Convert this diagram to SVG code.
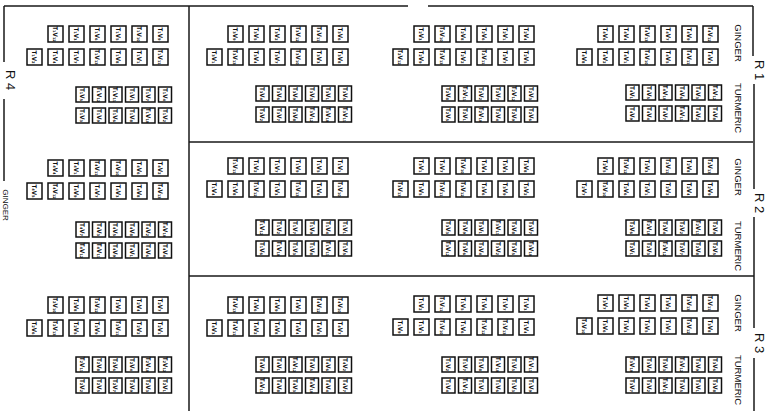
<svg xmlns="http://www.w3.org/2000/svg" width="767" height="411" viewBox="0 0 767 411">
<style>
.bg{fill:#fff}
.ln{fill:none;stroke:#1a1a1a;stroke-width:1.5}
rect.g{width:15px;height:16px;fill:#fff;stroke:#111;stroke-width:1.5}
rect.t{width:13px;height:15px;fill:#fff;stroke:#111;stroke-width:1.5}
.p text{font-family:"DejaVu Sans Condensed","DejaVu Sans",sans-serif;font-weight:bold;font-size:6.3px;fill:#111;text-anchor:middle;dominant-baseline:central}
.lab{font-family:"Liberation Sans",Arial,sans-serif;fill:#111;text-anchor:middle;dominant-baseline:central}
.rl{font-size:13px}
.cl{font-size:9.5px}
</style>
<rect class="bg" width="767" height="411"/>
<g id="frame">
<path class="ln" d="M4,6H408M428,6H753M753,6V56M754,84V189M754,217V328M754,358V411M4,6V62M4,99V181M189,6V411M189,142H753M189,276H754"/>
</g>
<g id="labels">
<text class="lab rl" transform="translate(759,70)rotate(90)">R 1</text>
<text class="lab rl" transform="translate(759,203)rotate(90)">R 2</text>
<text class="lab rl" transform="translate(759,343)rotate(90)">R 3</text>
<text class="lab rl" transform="translate(10,80)rotate(90)">R 4</text>
<text class="lab" style="font-size:8px" transform="translate(5,205)rotate(90)">GINGER</text>
<text class="lab cl" transform="translate(738,43)rotate(90)">GINGER</text>
<text class="lab cl" transform="translate(738,108)rotate(90)">TURMERIC</text>
<text class="lab cl" transform="translate(738,177)rotate(90)">GINGER</text>
<text class="lab cl" transform="translate(738,246)rotate(90)">TURMERIC</text>
<text class="lab cl" transform="translate(738,313)rotate(90)">GINGER</text>
<text class="lab cl" transform="translate(738,380)rotate(90)">TURMERIC</text>
</g>

<g id="r1-a" class="p" transform="translate(207,26)">
<rect class="g" x="21" y="0"/><text transform="translate(28.5,8)rotate(90)">T₃V₉</text>
<rect class="g" x="42" y="0"/><text transform="translate(49.5,8)rotate(90)">T₃V₅</text>
<rect class="g" x="63" y="0"/><text transform="translate(70.5,8)rotate(90)">T₃V₂</text>
<rect class="g" x="84" y="0"/><text transform="translate(91.5,8)rotate(90)">T₃V₁₂</text>
<rect class="g" x="105" y="0"/><text transform="translate(112.5,8)rotate(90)">T₃V₁₁</text>
<rect class="g" x="126" y="0"/><text transform="translate(133.5,8)rotate(90)">T₃V₆</text>
<rect class="g" x="0" y="23"/><text transform="translate(7.5,31)rotate(90)">T₃V₁</text>
<rect class="g" x="21" y="23"/><text transform="translate(28.5,31)rotate(90)">T₃V₁₃</text>
<rect class="g" x="42" y="23"/><text transform="translate(49.5,31)rotate(90)">T₃V₄</text>
<rect class="g" x="63" y="23"/><text transform="translate(70.5,31)rotate(90)">T₃V₇</text>
<rect class="g" x="84" y="23"/><text transform="translate(91.5,31)rotate(90)">T₃V₁₀</text>
<rect class="g" x="105" y="23"/><text transform="translate(112.5,31)rotate(90)">T₃V₃</text>
<rect class="g" x="126" y="23"/><text transform="translate(133.5,31)rotate(90)">T₃V₈</text>
<g transform="translate(0,60)">
<rect class="t" x="49" y="0"/><text transform="translate(55.5,7.5)rotate(90)">T₃V₄</text>
<rect class="t" x="65.5" y="0"/><text transform="translate(72,7.5)rotate(90)">T₃V₆</text>
<rect class="t" x="82" y="0"/><text transform="translate(88.5,7.5)rotate(90)">T₃V₉</text>
<rect class="t" x="98.5" y="0"/><text transform="translate(105,7.5)rotate(90)">T₃V₃</text>
<rect class="t" x="115" y="0"/><text transform="translate(121.5,7.5)rotate(90)">T₃V₁</text>
<rect class="t" x="131.5" y="0"/><text transform="translate(138,7.5)rotate(90)">T₃V₅</text>
<rect class="t" x="49" y="21"/><text transform="translate(55.5,28.5)rotate(90)">T₃V₂</text>
<rect class="t" x="65.5" y="21"/><text transform="translate(72,28.5)rotate(90)">T₃V₇</text>
<rect class="t" x="82" y="21"/><text transform="translate(88.5,28.5)rotate(90)">T₃V₈</text>
<rect class="t" x="98.5" y="21"/><text transform="translate(105,28.5)rotate(90)">T₃V₁₂</text>
<rect class="t" x="115" y="21"/><text transform="translate(121.5,28.5)rotate(90)">T₃V₁₀</text>
<rect class="t" x="131.5" y="21"/><text transform="translate(138,28.5)rotate(90)">T₃V₁₁</text>
</g>
</g>

<g id="r1-b" class="p" transform="translate(393,26)">
<rect class="g" x="21" y="0"/><text transform="translate(28.5,8)rotate(90)">T₂V₃</text>
<rect class="g" x="42" y="0"/><text transform="translate(49.5,8)rotate(90)">T₂V₁₀</text>
<rect class="g" x="63" y="0"/><text transform="translate(70.5,8)rotate(90)">T₂V₈</text>
<rect class="g" x="84" y="0"/><text transform="translate(91.5,8)rotate(90)">T₂V₆</text>
<rect class="g" x="105" y="0"/><text transform="translate(112.5,8)rotate(90)">T₂V₁</text>
<rect class="g" x="126" y="0"/><text transform="translate(133.5,8)rotate(90)">T₂V₄</text>
<rect class="g" x="0" y="23"/><text transform="translate(7.5,31)rotate(90)">T₂V₁₂</text>
<rect class="g" x="21" y="23"/><text transform="translate(28.5,31)rotate(90)">T₂V₉</text>
<rect class="g" x="42" y="23"/><text transform="translate(49.5,31)rotate(90)">T₂V₁₃</text>
<rect class="g" x="63" y="23"/><text transform="translate(70.5,31)rotate(90)">T₂V₂</text>
<rect class="g" x="84" y="23"/><text transform="translate(91.5,31)rotate(90)">T₂V₁₁</text>
<rect class="g" x="105" y="23"/><text transform="translate(112.5,31)rotate(90)">T₂V₇</text>
<rect class="g" x="126" y="23"/><text transform="translate(133.5,31)rotate(90)">T₂V₅</text>
<g transform="translate(0,60)">
<rect class="t" x="49" y="0"/><text transform="translate(55.5,7.5)rotate(90)">T₂V₈</text>
<rect class="t" x="65.5" y="0"/><text transform="translate(72,7.5)rotate(90)">T₂V₁₁</text>
<rect class="t" x="82" y="0"/><text transform="translate(88.5,7.5)rotate(90)">T₂V₂</text>
<rect class="t" x="98.5" y="0"/><text transform="translate(105,7.5)rotate(90)">T₂V₇</text>
<rect class="t" x="115" y="0"/><text transform="translate(121.5,7.5)rotate(90)">T₂V₁₂</text>
<rect class="t" x="131.5" y="0"/><text transform="translate(138,7.5)rotate(90)">T₂V₃</text>
<rect class="t" x="49" y="21"/><text transform="translate(55.5,28.5)rotate(90)">T₂V₅</text>
<rect class="t" x="65.5" y="21"/><text transform="translate(72,28.5)rotate(90)">T₂V₁</text>
<rect class="t" x="82" y="21"/><text transform="translate(88.5,28.5)rotate(90)">T₂V₁₀</text>
<rect class="t" x="98.5" y="21"/><text transform="translate(105,28.5)rotate(90)">T₂V₄</text>
<rect class="t" x="115" y="21"/><text transform="translate(121.5,28.5)rotate(90)">T₂V₉</text>
<rect class="t" x="131.5" y="21"/><text transform="translate(138,28.5)rotate(90)">T₂V₆</text>
</g>
</g>

<g id="r1-c" class="p" transform="translate(577,26)">
<rect class="g" x="21" y="0"/><text transform="translate(28.5,8)rotate(90)">T₄V₆</text>
<rect class="g" x="42" y="0"/><text transform="translate(49.5,8)rotate(90)">T₄V₄</text>
<rect class="g" x="63" y="0"/><text transform="translate(70.5,8)rotate(90)">T₄V₁₃</text>
<rect class="g" x="84" y="0"/><text transform="translate(91.5,8)rotate(90)">T₄V₇</text>
<rect class="g" x="105" y="0"/><text transform="translate(112.5,8)rotate(90)">T₄V₉</text>
<rect class="g" x="126" y="0"/><text transform="translate(133.5,8)rotate(90)">T₄V₁₂</text>
<rect class="g" x="0" y="23"/><text transform="translate(7.5,31)rotate(90)">T₄V₈</text>
<rect class="g" x="21" y="23"/><text transform="translate(28.5,31)rotate(90)">T₄V₂</text>
<rect class="g" x="42" y="23"/><text transform="translate(49.5,31)rotate(90)">T₄V₁</text>
<rect class="g" x="63" y="23"/><text transform="translate(70.5,31)rotate(90)">T₄V₁₀</text>
<rect class="g" x="84" y="23"/><text transform="translate(91.5,31)rotate(90)">T₄V₅</text>
<rect class="g" x="105" y="23"/><text transform="translate(112.5,31)rotate(90)">T₄V₁₁</text>
<rect class="g" x="126" y="23"/><text transform="translate(133.5,31)rotate(90)">T₄V₃</text>
<g transform="translate(0,59)">
<rect class="t" x="49" y="0"/><text transform="translate(55.5,7.5)rotate(90)">T₄V₁</text>
<rect class="t" x="65.5" y="0"/><text transform="translate(72,7.5)rotate(90)">T₄V₅</text>
<rect class="t" x="82" y="0"/><text transform="translate(88.5,7.5)rotate(90)">T₄V₁₀</text>
<rect class="t" x="98.5" y="0"/><text transform="translate(105,7.5)rotate(90)">T₄V₆</text>
<rect class="t" x="115" y="0"/><text transform="translate(121.5,7.5)rotate(90)">T₄V₃</text>
<rect class="t" x="131.5" y="0"/><text transform="translate(138,7.5)rotate(90)">T₄V₁₂</text>
<rect class="t" x="49" y="21"/><text transform="translate(55.5,28.5)rotate(90)">T₄V₉</text>
<rect class="t" x="65.5" y="21"/><text transform="translate(72,28.5)rotate(90)">T₄V₄</text>
<rect class="t" x="82" y="21"/><text transform="translate(88.5,28.5)rotate(90)">T₄V₇</text>
<rect class="t" x="98.5" y="21"/><text transform="translate(105,28.5)rotate(90)">T₄V₁₁</text>
<rect class="t" x="115" y="21"/><text transform="translate(121.5,28.5)rotate(90)">T₄V₂</text>
<rect class="t" x="131.5" y="21"/><text transform="translate(138,28.5)rotate(90)">T₄V₈</text>
</g>
</g>

<g id="r2-a" class="p" transform="translate(207,158)">
<rect class="g" x="21" y="0"/><text transform="translate(28.5,8)rotate(90)">T₁V₁₁</text>
<rect class="g" x="42" y="0"/><text transform="translate(49.5,8)rotate(90)">T₁V₂</text>
<rect class="g" x="63" y="0"/><text transform="translate(70.5,8)rotate(90)">T₁V₇</text>
<rect class="g" x="84" y="0"/><text transform="translate(91.5,8)rotate(90)">T₁V₉</text>
<rect class="g" x="105" y="0"/><text transform="translate(112.5,8)rotate(90)">T₁V₅</text>
<rect class="g" x="126" y="0"/><text transform="translate(133.5,8)rotate(90)">T₁V₁</text>
<rect class="g" x="0" y="23"/><text transform="translate(7.5,31)rotate(90)">T₁V₄</text>
<rect class="g" x="21" y="23"/><text transform="translate(28.5,31)rotate(90)">T₁V₈</text>
<rect class="g" x="42" y="23"/><text transform="translate(49.5,31)rotate(90)">T₁V₁₂</text>
<rect class="g" x="63" y="23"/><text transform="translate(70.5,31)rotate(90)">T₁V₃</text>
<rect class="g" x="84" y="23"/><text transform="translate(91.5,31)rotate(90)">T₁V₁₃</text>
<rect class="g" x="105" y="23"/><text transform="translate(112.5,31)rotate(90)">T₁V₆</text>
<rect class="g" x="126" y="23"/><text transform="translate(133.5,31)rotate(90)">T₁V₁₀</text>
<g transform="translate(0,62)">
<rect class="t" x="49" y="0"/><text transform="translate(55.5,7.5)rotate(90)">T₁V₁₂</text>
<rect class="t" x="65.5" y="0"/><text transform="translate(72,7.5)rotate(90)">T₁V₂</text>
<rect class="t" x="82" y="0"/><text transform="translate(88.5,7.5)rotate(90)">T₁V₇</text>
<rect class="t" x="98.5" y="0"/><text transform="translate(105,7.5)rotate(90)">T₁V₉</text>
<rect class="t" x="115" y="0"/><text transform="translate(121.5,7.5)rotate(90)">T₁V₄</text>
<rect class="t" x="131.5" y="0"/><text transform="translate(138,7.5)rotate(90)">T₁V₁</text>
<rect class="t" x="49" y="21"/><text transform="translate(55.5,28.5)rotate(90)">T₁V₆</text>
<rect class="t" x="65.5" y="21"/><text transform="translate(72,28.5)rotate(90)">T₁V₁₀</text>
<rect class="t" x="82" y="21"/><text transform="translate(88.5,28.5)rotate(90)">T₁V₃</text>
<rect class="t" x="98.5" y="21"/><text transform="translate(105,28.5)rotate(90)">T₁V₈</text>
<rect class="t" x="115" y="21"/><text transform="translate(121.5,28.5)rotate(90)">T₁V₁₁</text>
<rect class="t" x="131.5" y="21"/><text transform="translate(138,28.5)rotate(90)">T₁V₅</text>
</g>
</g>

<g id="r2-b" class="p" transform="translate(393,158)">
<rect class="g" x="21" y="0"/><text transform="translate(28.5,8)rotate(90)">T₃V₁</text>
<rect class="g" x="42" y="0"/><text transform="translate(49.5,8)rotate(90)">T₃V₇</text>
<rect class="g" x="63" y="0"/><text transform="translate(70.5,8)rotate(90)">T₃V₁₀</text>
<rect class="g" x="84" y="0"/><text transform="translate(91.5,8)rotate(90)">T₃V₄</text>
<rect class="g" x="105" y="0"/><text transform="translate(112.5,8)rotate(90)">T₃V₃</text>
<rect class="g" x="126" y="0"/><text transform="translate(133.5,8)rotate(90)">T₃V₈</text>
<rect class="g" x="0" y="23"/><text transform="translate(7.5,31)rotate(90)">T₃V₁₃</text>
<rect class="g" x="21" y="23"/><text transform="translate(28.5,31)rotate(90)">T₃V₅</text>
<rect class="g" x="42" y="23"/><text transform="translate(49.5,31)rotate(90)">T₃V₁₁</text>
<rect class="g" x="63" y="23"/><text transform="translate(70.5,31)rotate(90)">T₃V₁₂</text>
<rect class="g" x="84" y="23"/><text transform="translate(91.5,31)rotate(90)">T₃V₆</text>
<rect class="g" x="105" y="23"/><text transform="translate(112.5,31)rotate(90)">T₃V₉</text>
<rect class="g" x="126" y="23"/><text transform="translate(133.5,31)rotate(90)">T₃V₂</text>
<g transform="translate(0,62)">
<rect class="t" x="49" y="0"/><text transform="translate(55.5,7.5)rotate(90)">T₃V₃</text>
<rect class="t" x="65.5" y="0"/><text transform="translate(72,7.5)rotate(90)">T₃V₉</text>
<rect class="t" x="82" y="0"/><text transform="translate(88.5,7.5)rotate(90)">T₃V₁</text>
<rect class="t" x="98.5" y="0"/><text transform="translate(105,7.5)rotate(90)">T₃V₁₁</text>
<rect class="t" x="115" y="0"/><text transform="translate(121.5,7.5)rotate(90)">T₃V₈</text>
<rect class="t" x="131.5" y="0"/><text transform="translate(138,7.5)rotate(90)">T₃V₇</text>
<rect class="t" x="49" y="21"/><text transform="translate(55.5,28.5)rotate(90)">T₃V₁₂</text>
<rect class="t" x="65.5" y="21"/><text transform="translate(72,28.5)rotate(90)">T₃V₆</text>
<rect class="t" x="82" y="21"/><text transform="translate(88.5,28.5)rotate(90)">T₃V₄</text>
<rect class="t" x="98.5" y="21"/><text transform="translate(105,28.5)rotate(90)">T₃V₂</text>
<rect class="t" x="115" y="21"/><text transform="translate(121.5,28.5)rotate(90)">T₃V₅</text>
<rect class="t" x="131.5" y="21"/><text transform="translate(138,28.5)rotate(90)">T₃V₁₀</text>
</g>
</g>

<g id="r2-c" class="p" transform="translate(577,158)">
<rect class="g" x="21" y="0"/><text transform="translate(28.5,8)rotate(90)">T₂V₅</text>
<rect class="g" x="42" y="0"/><text transform="translate(49.5,8)rotate(90)">T₂V₁₂</text>
<rect class="g" x="63" y="0"/><text transform="translate(70.5,8)rotate(90)">T₂V₃</text>
<rect class="g" x="84" y="0"/><text transform="translate(91.5,8)rotate(90)">T₂V₁₁</text>
<rect class="g" x="105" y="0"/><text transform="translate(112.5,8)rotate(90)">T₂V₈</text>
<rect class="g" x="126" y="0"/><text transform="translate(133.5,8)rotate(90)">T₂V₁₃</text>
<rect class="g" x="0" y="23"/><text transform="translate(7.5,31)rotate(90)">T₂V₇</text>
<rect class="g" x="21" y="23"/><text transform="translate(28.5,31)rotate(90)">T₂V₁₀</text>
<rect class="g" x="42" y="23"/><text transform="translate(49.5,31)rotate(90)">T₂V₆</text>
<rect class="g" x="63" y="23"/><text transform="translate(70.5,31)rotate(90)">T₂V₁</text>
<rect class="g" x="84" y="23"/><text transform="translate(91.5,31)rotate(90)">T₂V₂</text>
<rect class="g" x="105" y="23"/><text transform="translate(112.5,31)rotate(90)">T₂V₄</text>
<rect class="g" x="126" y="23"/><text transform="translate(133.5,31)rotate(90)">T₂V₉</text>
<g transform="translate(0,62)">
<rect class="t" x="49" y="0"/><text transform="translate(55.5,7.5)rotate(90)">T₂V₆</text>
<rect class="t" x="65.5" y="0"/><text transform="translate(72,7.5)rotate(90)">T₂V₁₀</text>
<rect class="t" x="82" y="0"/><text transform="translate(88.5,7.5)rotate(90)">T₂V₄</text>
<rect class="t" x="98.5" y="0"/><text transform="translate(105,7.5)rotate(90)">T₂V₂</text>
<rect class="t" x="115" y="0"/><text transform="translate(121.5,7.5)rotate(90)">T₂V₁₁</text>
<rect class="t" x="131.5" y="0"/><text transform="translate(138,7.5)rotate(90)">T₂V₉</text>
<rect class="t" x="49" y="21"/><text transform="translate(55.5,28.5)rotate(90)">T₂V₁</text>
<rect class="t" x="65.5" y="21"/><text transform="translate(72,28.5)rotate(90)">T₂V₃</text>
<rect class="t" x="82" y="21"/><text transform="translate(88.5,28.5)rotate(90)">T₂V₁₂</text>
<rect class="t" x="98.5" y="21"/><text transform="translate(105,28.5)rotate(90)">T₂V₇</text>
<rect class="t" x="115" y="21"/><text transform="translate(121.5,28.5)rotate(90)">T₂V₈</text>
<rect class="t" x="131.5" y="21"/><text transform="translate(138,28.5)rotate(90)">T₂V₅</text>
</g>
</g>

<g id="r3-a" class="p" transform="translate(207,297)">
<rect class="g" x="21" y="0"/><text transform="translate(28.5,8)rotate(90)">T₄V₁₃</text>
<rect class="g" x="42" y="0"/><text transform="translate(49.5,8)rotate(90)">T₄V₆</text>
<rect class="g" x="63" y="0"/><text transform="translate(70.5,8)rotate(90)">T₄V₉</text>
<rect class="g" x="84" y="0"/><text transform="translate(91.5,8)rotate(90)">T₄V₁</text>
<rect class="g" x="105" y="0"/><text transform="translate(112.5,8)rotate(90)">T₄V₁₂</text>
<rect class="g" x="126" y="0"/><text transform="translate(133.5,8)rotate(90)">T₄V₁₀</text>
<rect class="g" x="0" y="23"/><text transform="translate(7.5,31)rotate(90)">T₄V₃</text>
<rect class="g" x="21" y="23"/><text transform="translate(28.5,31)rotate(90)">T₄V₁₁</text>
<rect class="g" x="42" y="23"/><text transform="translate(49.5,31)rotate(90)">T₄V₂</text>
<rect class="g" x="63" y="23"/><text transform="translate(70.5,31)rotate(90)">T₄V₈</text>
<rect class="g" x="84" y="23"/><text transform="translate(91.5,31)rotate(90)">T₄V₄</text>
<rect class="g" x="105" y="23"/><text transform="translate(112.5,31)rotate(90)">T₄V₅</text>
<rect class="g" x="126" y="23"/><text transform="translate(133.5,31)rotate(90)">T₄V₇</text>
<g transform="translate(0,60)">
<rect class="t" x="49" y="0"/><text transform="translate(55.5,7.5)rotate(90)">T₄V₉</text>
<rect class="t" x="65.5" y="0"/><text transform="translate(72,7.5)rotate(90)">T₄V₁</text>
<rect class="t" x="82" y="0"/><text transform="translate(88.5,7.5)rotate(90)">T₄V₁₂</text>
<rect class="t" x="98.5" y="0"/><text transform="translate(105,7.5)rotate(90)">T₄V₅</text>
<rect class="t" x="115" y="0"/><text transform="translate(121.5,7.5)rotate(90)">T₄V₆</text>
<rect class="t" x="131.5" y="0"/><text transform="translate(138,7.5)rotate(90)">T₄V₂</text>
<rect class="t" x="49" y="21"/><text transform="translate(55.5,28.5)rotate(90)">T₄V₁₁</text>
<rect class="t" x="65.5" y="21"/><text transform="translate(72,28.5)rotate(90)">T₄V₈</text>
<rect class="t" x="82" y="21"/><text transform="translate(88.5,28.5)rotate(90)">T₄V₃</text>
<rect class="t" x="98.5" y="21"/><text transform="translate(105,28.5)rotate(90)">T₄V₁₀</text>
<rect class="t" x="115" y="21"/><text transform="translate(121.5,28.5)rotate(90)">T₄V₄</text>
<rect class="t" x="131.5" y="21"/><text transform="translate(138,28.5)rotate(90)">T₄V₇</text>
</g>
</g>

<g id="r3-b" class="p" transform="translate(393,296)">
<rect class="g" x="21" y="0"/><text transform="translate(28.5,8)rotate(90)">T₁V₂</text>
<rect class="g" x="42" y="0"/><text transform="translate(49.5,8)rotate(90)">T₁V₁₁</text>
<rect class="g" x="63" y="0"/><text transform="translate(70.5,8)rotate(90)">T₁V₅</text>
<rect class="g" x="84" y="0"/><text transform="translate(91.5,8)rotate(90)">T₁V₈</text>
<rect class="g" x="105" y="0"/><text transform="translate(112.5,8)rotate(90)">T₁V₇</text>
<rect class="g" x="126" y="0"/><text transform="translate(133.5,8)rotate(90)">T₁V₃</text>
<rect class="g" x="0" y="23"/><text transform="translate(7.5,31)rotate(90)">T₁V₉</text>
<rect class="g" x="21" y="23"/><text transform="translate(28.5,31)rotate(90)">T₁V₁</text>
<rect class="g" x="42" y="23"/><text transform="translate(49.5,31)rotate(90)">T₁V₁₀</text>
<rect class="g" x="63" y="23"/><text transform="translate(70.5,31)rotate(90)">T₁V₆</text>
<rect class="g" x="84" y="23"/><text transform="translate(91.5,31)rotate(90)">T₁V₁₂</text>
<rect class="g" x="105" y="23"/><text transform="translate(112.5,31)rotate(90)">T₁V₁₃</text>
<rect class="g" x="126" y="23"/><text transform="translate(133.5,31)rotate(90)">T₁V₄</text>
<g transform="translate(0,61)">
<rect class="t" x="49" y="0"/><text transform="translate(55.5,7.5)rotate(90)">T₁V₂</text>
<rect class="t" x="65.5" y="0"/><text transform="translate(72,7.5)rotate(90)">T₁V₇</text>
<rect class="t" x="82" y="0"/><text transform="translate(88.5,7.5)rotate(90)">T₁V₈</text>
<rect class="t" x="98.5" y="0"/><text transform="translate(105,7.5)rotate(90)">T₁V₁₀</text>
<rect class="t" x="115" y="0"/><text transform="translate(121.5,7.5)rotate(90)">T₁V₅</text>
<rect class="t" x="131.5" y="0"/><text transform="translate(138,7.5)rotate(90)">T₁V₁₁</text>
<rect class="t" x="49" y="21"/><text transform="translate(55.5,28.5)rotate(90)">T₁V₄</text>
<rect class="t" x="65.5" y="21"/><text transform="translate(72,28.5)rotate(90)">T₁V₁₂</text>
<rect class="t" x="82" y="21"/><text transform="translate(88.5,28.5)rotate(90)">T₁V₁</text>
<rect class="t" x="98.5" y="21"/><text transform="translate(105,28.5)rotate(90)">T₁V₆</text>
<rect class="t" x="115" y="21"/><text transform="translate(121.5,28.5)rotate(90)">T₁V₃</text>
<rect class="t" x="131.5" y="21"/><text transform="translate(138,28.5)rotate(90)">T₁V₉</text>
</g>
</g>

<g id="r3-c" class="p" transform="translate(577,295)">
<rect class="g" x="21" y="0"/><text transform="translate(28.5,8)rotate(90)">T₃V₇</text>
<rect class="g" x="42" y="0"/><text transform="translate(49.5,8)rotate(90)">T₃V₉</text>
<rect class="g" x="63" y="0"/><text transform="translate(70.5,8)rotate(90)">T₃V₄</text>
<rect class="g" x="84" y="0"/><text transform="translate(91.5,8)rotate(90)">T₃V₂</text>
<rect class="g" x="105" y="0"/><text transform="translate(112.5,8)rotate(90)">T₃V₁₃</text>
<rect class="g" x="126" y="0"/><text transform="translate(133.5,8)rotate(90)">T₃V₁₁</text>
<rect class="g" x="0" y="23"/><text transform="translate(7.5,31)rotate(90)">T₃V₁₀</text>
<rect class="g" x="21" y="23"/><text transform="translate(28.5,31)rotate(90)">T₃V₆</text>
<rect class="g" x="42" y="23"/><text transform="translate(49.5,31)rotate(90)">T₃V₃</text>
<rect class="g" x="63" y="23"/><text transform="translate(70.5,31)rotate(90)">T₃V₅</text>
<rect class="g" x="84" y="23"/><text transform="translate(91.5,31)rotate(90)">T₃V₁</text>
<rect class="g" x="105" y="23"/><text transform="translate(112.5,31)rotate(90)">T₃V₁₂</text>
<rect class="g" x="126" y="23"/><text transform="translate(133.5,31)rotate(90)">T₃V₈</text>
<g transform="translate(0,62)">
<rect class="t" x="49" y="0"/><text transform="translate(55.5,7.5)rotate(90)">T₃V₁₀</text>
<rect class="t" x="65.5" y="0"/><text transform="translate(72,7.5)rotate(90)">T₃V₄</text>
<rect class="t" x="82" y="0"/><text transform="translate(88.5,7.5)rotate(90)">T₃V₃</text>
<rect class="t" x="98.5" y="0"/><text transform="translate(105,7.5)rotate(90)">T₃V₁₂</text>
<rect class="t" x="115" y="0"/><text transform="translate(121.5,7.5)rotate(90)">T₃V₉</text>
<rect class="t" x="131.5" y="0"/><text transform="translate(138,7.5)rotate(90)">T₃V₆</text>
<rect class="t" x="49" y="21"/><text transform="translate(55.5,28.5)rotate(90)">T₃V₇</text>
<rect class="t" x="65.5" y="21"/><text transform="translate(72,28.5)rotate(90)">T₃V₂</text>
<rect class="t" x="82" y="21"/><text transform="translate(88.5,28.5)rotate(90)">T₃V₁₁</text>
<rect class="t" x="98.5" y="21"/><text transform="translate(105,28.5)rotate(90)">T₃V₅</text>
<rect class="t" x="115" y="21"/><text transform="translate(121.5,28.5)rotate(90)">T₃V₁</text>
<rect class="t" x="131.5" y="21"/><text transform="translate(138,28.5)rotate(90)">T₃V₈</text>
</g>
</g>

<g id="r4-1" class="p" transform="translate(27,26)">
<rect class="g" x="21" y="0"/><text transform="translate(28.5,8)rotate(90)">T₁V₁₂</text>
<rect class="g" x="42" y="0"/><text transform="translate(49.5,8)rotate(90)">T₁V₃</text>
<rect class="g" x="63" y="0"/><text transform="translate(70.5,8)rotate(90)">T₁V₆</text>
<rect class="g" x="84" y="0"/><text transform="translate(91.5,8)rotate(90)">T₁V₅</text>
<rect class="g" x="105" y="0"/><text transform="translate(112.5,8)rotate(90)">T₁V₁₀</text>
<rect class="g" x="126" y="0"/><text transform="translate(133.5,8)rotate(90)">T₁V₉</text>
<rect class="g" x="0" y="23"/><text transform="translate(7.5,31)rotate(90)">T₁V₂</text>
<rect class="g" x="21" y="23"/><text transform="translate(28.5,31)rotate(90)">T₁V₄</text>
<rect class="g" x="42" y="23"/><text transform="translate(49.5,31)rotate(90)">T₁V₇</text>
<rect class="g" x="63" y="23"/><text transform="translate(70.5,31)rotate(90)">T₁V₁₃</text>
<rect class="g" x="84" y="23"/><text transform="translate(91.5,31)rotate(90)">T₁V₈</text>
<rect class="g" x="105" y="23"/><text transform="translate(112.5,31)rotate(90)">T₁V₁</text>
<rect class="g" x="126" y="23"/><text transform="translate(133.5,31)rotate(90)">T₁V₁₁</text>
<g transform="translate(0,61)">
<rect class="t" x="49" y="0"/><text transform="translate(55.5,7.5)rotate(90)">T₁V₅</text>
<rect class="t" x="65.5" y="0"/><text transform="translate(72,7.5)rotate(90)">T₁V₁₂</text>
<rect class="t" x="82" y="0"/><text transform="translate(88.5,7.5)rotate(90)">T₁V₁₁</text>
<rect class="t" x="98.5" y="0"/><text transform="translate(105,7.5)rotate(90)">T₁V₁</text>
<rect class="t" x="115" y="0"/><text transform="translate(121.5,7.5)rotate(90)">T₁V₇</text>
<rect class="t" x="131.5" y="0"/><text transform="translate(138,7.5)rotate(90)">T₁V₄</text>
<rect class="t" x="49" y="21"/><text transform="translate(55.5,28.5)rotate(90)">T₁V₃</text>
<rect class="t" x="65.5" y="21"/><text transform="translate(72,28.5)rotate(90)">T₁V₉</text>
<rect class="t" x="82" y="21"/><text transform="translate(88.5,28.5)rotate(90)">T₁V₆</text>
<rect class="t" x="98.5" y="21"/><text transform="translate(105,28.5)rotate(90)">T₁V₈</text>
<rect class="t" x="115" y="21"/><text transform="translate(121.5,28.5)rotate(90)">T₁V₁₀</text>
<rect class="t" x="131.5" y="21"/><text transform="translate(138,28.5)rotate(90)">T₁V₂</text>
</g>
</g>

<g id="r4-2" class="p" transform="translate(27,160)">
<rect class="g" x="21" y="0"/><text transform="translate(28.5,8)rotate(90)">T₄V₄</text>
<rect class="g" x="42" y="0"/><text transform="translate(49.5,8)rotate(90)">T₄V₁</text>
<rect class="g" x="63" y="0"/><text transform="translate(70.5,8)rotate(90)">T₄V₁₁</text>
<rect class="g" x="84" y="0"/><text transform="translate(91.5,8)rotate(90)">T₄V₁₀</text>
<rect class="g" x="105" y="0"/><text transform="translate(112.5,8)rotate(90)">T₄V₆</text>
<rect class="g" x="126" y="0"/><text transform="translate(133.5,8)rotate(90)">T₄V₂</text>
<rect class="g" x="0" y="23"/><text transform="translate(7.5,31)rotate(90)">T₄V₅</text>
<rect class="g" x="21" y="23"/><text transform="translate(28.5,31)rotate(90)">T₄V₁₂</text>
<rect class="g" x="42" y="23"/><text transform="translate(49.5,31)rotate(90)">T₄V₉</text>
<rect class="g" x="63" y="23"/><text transform="translate(70.5,31)rotate(90)">T₄V₇</text>
<rect class="g" x="84" y="23"/><text transform="translate(91.5,31)rotate(90)">T₄V₃</text>
<rect class="g" x="105" y="23"/><text transform="translate(112.5,31)rotate(90)">T₄V₈</text>
<rect class="g" x="126" y="23"/><text transform="translate(133.5,31)rotate(90)">T₄V₁₃</text>
<g transform="translate(0,62)">
<rect class="t" x="49" y="0"/><text transform="translate(55.5,7.5)rotate(90)">T₄V₇</text>
<rect class="t" x="65.5" y="0"/><text transform="translate(72,7.5)rotate(90)">T₄V₃</text>
<rect class="t" x="82" y="0"/><text transform="translate(88.5,7.5)rotate(90)">T₄V₅</text>
<rect class="t" x="98.5" y="0"/><text transform="translate(105,7.5)rotate(90)">T₄V₈</text>
<rect class="t" x="115" y="0"/><text transform="translate(121.5,7.5)rotate(90)">T₄V₂</text>
<rect class="t" x="131.5" y="0"/><text transform="translate(138,7.5)rotate(90)">T₄V₁₀</text>
<rect class="t" x="49" y="21"/><text transform="translate(55.5,28.5)rotate(90)">T₄V₁₂</text>
<rect class="t" x="65.5" y="21"/><text transform="translate(72,28.5)rotate(90)">T₄V₁₁</text>
<rect class="t" x="82" y="21"/><text transform="translate(88.5,28.5)rotate(90)">T₄V₉</text>
<rect class="t" x="98.5" y="21"/><text transform="translate(105,28.5)rotate(90)">T₄V₁</text>
<rect class="t" x="115" y="21"/><text transform="translate(121.5,28.5)rotate(90)">T₄V₆</text>
<rect class="t" x="131.5" y="21"/><text transform="translate(138,28.5)rotate(90)">T₄V₄</text>
</g>
</g>

<g id="r4-3" class="p" transform="translate(27,297)">
<rect class="g" x="21" y="0"/><text transform="translate(28.5,8)rotate(90)">T₂V₁₀</text>
<rect class="g" x="42" y="0"/><text transform="translate(49.5,8)rotate(90)">T₂V₈</text>
<rect class="g" x="63" y="0"/><text transform="translate(70.5,8)rotate(90)">T₂V₁₂</text>
<rect class="g" x="84" y="0"/><text transform="translate(91.5,8)rotate(90)">T₂V₃</text>
<rect class="g" x="105" y="0"/><text transform="translate(112.5,8)rotate(90)">T₂V₄</text>
<rect class="g" x="126" y="0"/><text transform="translate(133.5,8)rotate(90)">T₂V₇</text>
<rect class="g" x="0" y="23"/><text transform="translate(7.5,31)rotate(90)">T₂V₆</text>
<rect class="g" x="21" y="23"/><text transform="translate(28.5,31)rotate(90)">T₂V₁₃</text>
<rect class="g" x="42" y="23"/><text transform="translate(49.5,31)rotate(90)">T₂V₅</text>
<rect class="g" x="63" y="23"/><text transform="translate(70.5,31)rotate(90)">T₂V₉</text>
<rect class="g" x="84" y="23"/><text transform="translate(91.5,31)rotate(90)">T₂V₁₁</text>
<rect class="g" x="105" y="23"/><text transform="translate(112.5,31)rotate(90)">T₂V₂</text>
<rect class="g" x="126" y="23"/><text transform="translate(133.5,31)rotate(90)">T₂V₁</text>
<g transform="translate(0,60)">
<rect class="t" x="49" y="0"/><text transform="translate(55.5,7.5)rotate(90)">T₂V₁₁</text>
<rect class="t" x="65.5" y="0"/><text transform="translate(72,7.5)rotate(90)">T₂V₈</text>
<rect class="t" x="82" y="0"/><text transform="translate(88.5,7.5)rotate(90)">T₂V₆</text>
<rect class="t" x="98.5" y="0"/><text transform="translate(105,7.5)rotate(90)">T₂V₄</text>
<rect class="t" x="115" y="0"/><text transform="translate(121.5,7.5)rotate(90)">T₂V₁₀</text>
<rect class="t" x="131.5" y="0"/><text transform="translate(138,7.5)rotate(90)">T₂V₁₂</text>
<rect class="t" x="49" y="21"/><text transform="translate(55.5,28.5)rotate(90)">T₂V₂</text>
<rect class="t" x="65.5" y="21"/><text transform="translate(72,28.5)rotate(90)">T₂V₅</text>
<rect class="t" x="82" y="21"/><text transform="translate(88.5,28.5)rotate(90)">T₂V₇</text>
<rect class="t" x="98.5" y="21"/><text transform="translate(105,28.5)rotate(90)">T₂V₉</text>
<rect class="t" x="115" y="21"/><text transform="translate(121.5,28.5)rotate(90)">T₂V₃</text>
<rect class="t" x="131.5" y="21"/><text transform="translate(138,28.5)rotate(90)">T₂V₁</text>
</g>
</g>
</svg>
